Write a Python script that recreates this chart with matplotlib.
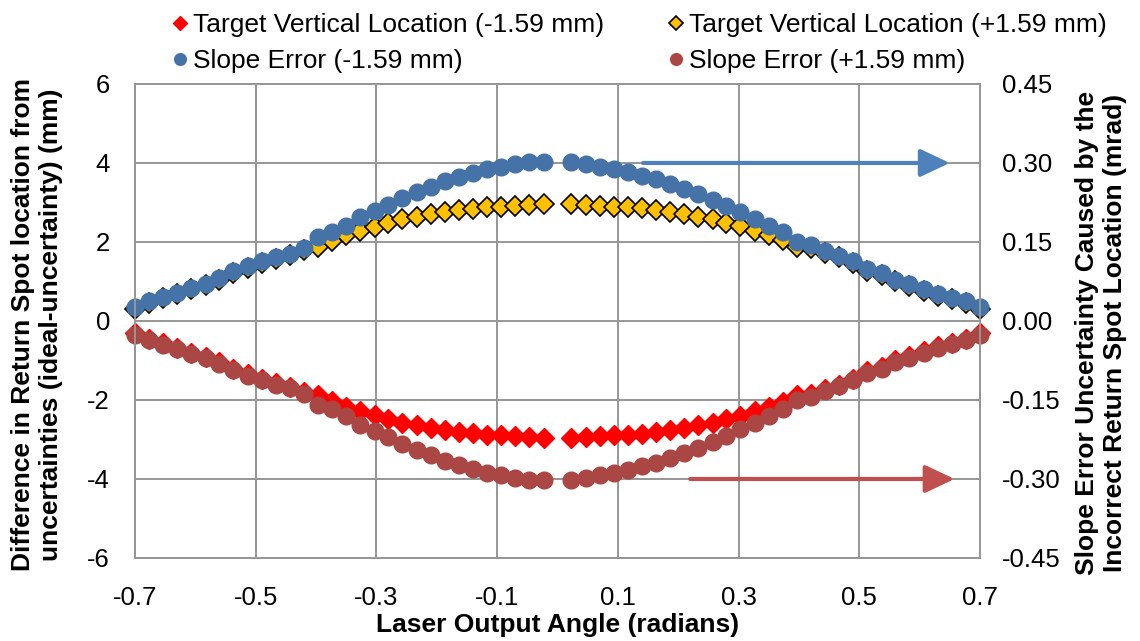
import matplotlib
matplotlib.use("Agg")
import matplotlib.pyplot as plt

plt.rcParams['font.family'] = ['Liberation Sans', 'DejaVu Sans']
plt.rcParams['axes.unicode_minus'] = False

# laser output angle (radians)
angle = [-0.700, -0.677, -0.653, -0.630, -0.607, -0.583, -0.560, -0.537, -0.513, -0.490,
         -0.467, -0.443, -0.420, -0.397, -0.373, -0.350, -0.327, -0.303, -0.280, -0.257,
         -0.233, -0.210, -0.187, -0.163, -0.140, -0.117, -0.093, -0.070, -0.047, -0.023,
         0.023, 0.047, 0.070, 0.093, 0.117, 0.140, 0.163, 0.187, 0.210, 0.233,
         0.257, 0.280, 0.303, 0.327, 0.350, 0.373, 0.397, 0.420, 0.443, 0.467,
         0.490, 0.513, 0.537, 0.560, 0.583, 0.607, 0.630, 0.653, 0.677, 0.700]

# target vertical location, spot difference (mm)
target_minus = [-0.31, -0.46, -0.57, -0.69, -0.80, -0.92, -1.05, -1.21, -1.35, -1.46,
                -1.57, -1.67, -1.80, -1.88, -2.03, -2.18, -2.28, -2.39, -2.47, -2.58,
                -2.64, -2.71, -2.77, -2.81, -2.84, -2.88, -2.89, -2.92, -2.94, -2.95,
                -2.95, -2.94, -2.92, -2.89, -2.88, -2.85, -2.81, -2.77, -2.71, -2.64,
                -2.58, -2.47, -2.41, -2.29, -2.18, -2.05, -1.88, -1.86, -1.73, -1.61,
                -1.46, -1.27, -1.17, -1.00, -0.89, -0.77, -0.64, -0.55, -0.45, -0.31]
target_plus = [0.31, 0.46, 0.57, 0.69, 0.80, 0.92, 1.05, 1.21, 1.35, 1.46,
               1.57, 1.67, 1.80, 1.88, 2.03, 2.18, 2.28, 2.39, 2.47, 2.58,
               2.64, 2.71, 2.77, 2.81, 2.84, 2.88, 2.89, 2.92, 2.94, 2.95,
               2.95, 2.94, 2.92, 2.89, 2.88, 2.85, 2.81, 2.77, 2.71, 2.64,
               2.58, 2.47, 2.41, 2.29, 2.18, 2.05, 1.88, 1.86, 1.73, 1.61,
               1.46, 1.27, 1.17, 1.00, 0.89, 0.77, 0.64, 0.55, 0.45, 0.31]

# slope error uncertainty (mrad)
slope_minus = [0.026, 0.037, 0.045, 0.054, 0.062, 0.071, 0.081, 0.094, 0.104, 0.113,
               0.121, 0.128, 0.138, 0.159, 0.168, 0.181, 0.197, 0.208, 0.221, 0.233,
               0.245, 0.255, 0.265, 0.274, 0.281, 0.289, 0.292, 0.298, 0.302, 0.302,
               0.302, 0.298, 0.293, 0.289, 0.282, 0.276, 0.269, 0.260, 0.251, 0.242,
               0.230, 0.218, 0.206, 0.194, 0.181, 0.168, 0.150, 0.145, 0.133, 0.124,
               0.113, 0.098, 0.091, 0.078, 0.070, 0.061, 0.051, 0.044, 0.037, 0.026]
slope_plus = [-0.026, -0.037, -0.045, -0.054, -0.062, -0.071, -0.081, -0.094, -0.104, -0.113,
              -0.121, -0.128, -0.138, -0.159, -0.168, -0.181, -0.197, -0.208, -0.221, -0.233,
              -0.245, -0.255, -0.265, -0.274, -0.281, -0.289, -0.292, -0.298, -0.302, -0.302,
              -0.302, -0.298, -0.293, -0.289, -0.282, -0.276, -0.269, -0.260, -0.251, -0.242,
              -0.230, -0.218, -0.206, -0.194, -0.181, -0.168, -0.150, -0.145, -0.133, -0.124,
              -0.113, -0.098, -0.091, -0.078, -0.070, -0.061, -0.051, -0.044, -0.037, -0.026]

x_ticks = [-0.7, -0.5, -0.3, -0.1, 0.1, 0.3, 0.5, 0.7]
y_ticks = [-6, -4, -2, 0, 2, 4, 6]
y2_ticks = [-0.45, -0.30, -0.15, 0.00, 0.15, 0.30, 0.45]

grid_col = '#969696'
fs = 18.5

fig = plt.figure(figsize=(11.4, 6.41), dpi=100)
ax = fig.add_axes([0.1184, 0.1295, 0.7412, 0.7395])
ax2 = ax.twinx()

h1, = ax.plot(angle, target_minus, ls='none', marker='D', ms=10, color='#FF0000',
              mec='#FF0000', clip_on=False, label='Target Vertical Location (-1.59 mm)')
h2, = ax.plot(angle, target_plus, ls='none', marker='D', ms=10, color='#FFC000',
              mec='black', mew=1.2, clip_on=False, label='Target Vertical Location (+1.59 mm)')
h3, = ax2.plot(angle, slope_minus, ls='none', marker='o', ms=12, color='#4572A7',
               mec='#4572A7', clip_on=False, label='Slope Error (-1.59 mm)')
h4, = ax2.plot(angle, slope_plus, ls='none', marker='o', ms=12, color='#AA4643',
               mec='#AA4643', clip_on=False, label='Slope Error (+1.59 mm)')

ax.set_xlim(-0.7, 0.7)
ax.set_ylim(-6, 6)
ax2.set_ylim(-0.45, 0.45)
ax.set_xticks(x_ticks)
ax.set_xticklabels([f'{v:.1f}' for v in x_ticks])
ax.set_yticks(y_ticks)
ax2.set_yticks(y2_ticks)
ax2.set_yticklabels([f'{v:.2f}' for v in y2_ticks])

# vertical gridlines every 0.2, starting at -0.7
for gx in [-0.5, -0.3, -0.1, 0.1, 0.3, 0.5]:
    ax.axvline(gx, color=grid_col, lw=1.4, zorder=0)
for gy in y_ticks:
    ax.axhline(gy, color=grid_col, lw=1.4, zorder=0)

for a in (ax, ax2):
    for s in a.spines.values():
        s.set_color(grid_col)
        s.set_linewidth(1.4)
ax.tick_params(axis='x', length=0, pad=20, labelsize=fs)
ax.tick_params(axis='y', length=0, pad=18, labelsize=fs)
ax2.tick_params(axis='y', length=0, pad=16, labelsize=fs)

# arrows pointing to the secondary axis
arrow_style = '-|>,head_length=1.8,head_width=0.85'
ax2.annotate('', xy=(0.650, 0.30), xytext=(0.142, 0.30),
             arrowprops=dict(arrowstyle=arrow_style, color='#4F81BD', lw=3,
                             shrinkA=0, shrinkB=0))
ax2.annotate('', xy=(0.658, -0.30), xytext=(0.22, -0.30),
             arrowprops=dict(arrowstyle=arrow_style, color='#C0504D', lw=3,
                             shrinkA=0, shrinkB=0))

fig.text(0.489, 0.025, 'Laser Output Angle (radians)', ha='center', va='center',
         fontsize=19, fontweight='bold')
fig.text(0.0325, 0.493, 'Difference in Return Spot location from\nuncertainties (ideal-uncertainty) (mm)',
         rotation=90, ha='center', va='center', fontsize=19, fontweight='bold',
         linespacing=1.2)
fig.text(0.966, 0.48, 'Slope Error Uncertainty Caused by the\nIncorrect Return Spot Location (mrad)',
         rotation=90, ha='center', va='center', fontsize=19, fontweight='bold',
         linespacing=1.2)

fig.legend(handles=[h1, h3, h2, h4], loc='upper center', bbox_to_anchor=(0.561, 1.008),
           ncol=2, frameon=False, fontsize=19, markerscale=0.7, handlelength=0.6,
           handletextpad=0.2, columnspacing=2.4, labelspacing=0.45, borderpad=0.2)

fig.savefig('out.png', dpi=100)
